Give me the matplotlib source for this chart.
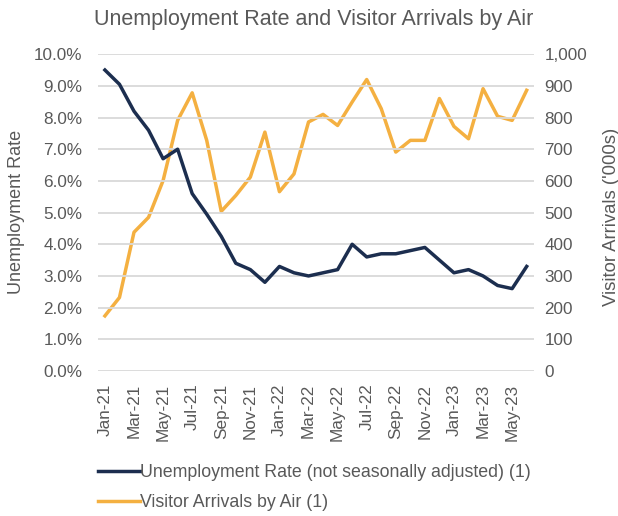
import matplotlib.pyplot as plt
from matplotlib.ticker import FuncFormatter, MultipleLocator

plt.rcParams['font.family'] = ['Liberation Sans', 'DejaVu Sans']

months = ['Jan-21', 'Feb-21', 'Mar-21', 'Apr-21', 'May-21', 'Jun-21', 'Jul-21', 'Aug-21',
          'Sep-21', 'Oct-21', 'Nov-21', 'Dec-21', 'Jan-22', 'Feb-22', 'Mar-22', 'Apr-22',
          'May-22', 'Jun-22', 'Jul-22', 'Aug-22', 'Sep-22', 'Oct-22', 'Nov-22', 'Dec-22',
          'Jan-23', 'Feb-23', 'Mar-23', 'Apr-23', 'May-23', 'Jun-23']

# unemployment rate, % (not seasonally adjusted)
unemployment = [9.5, 9.05, 8.2, 7.6, 6.7, 7.0, 5.6, 4.95, 4.25, 3.4, 3.2, 2.8,
                3.3, 3.1, 3.0, 3.1, 3.2, 4.0, 3.6, 3.7, 3.7, 3.8, 3.9, 3.5,
                3.1, 3.2, 3.0, 2.7, 2.6, 3.3]

# visitor arrivals by air, thousands
arrivals = [174, 232, 438, 485, 601, 791, 878, 728, 504, 554, 612, 754,
            566, 622, 786, 810, 775, 849, 920, 828, 691, 728, 728, 860,
            772, 733, 891, 804, 791, 886]

navy = '#1c2e4f'
gold = '#f4b041'
grey = '#595959'

W, H = 618, 516
fig = plt.figure(figsize=(W / 100, H / 100), dpi=100)
ax = fig.add_axes([0.158, 0.281, 0.706, 0.614])
ax2 = ax.twinx()

x = list(range(len(months)))
l1, = ax.plot(x, unemployment, color=navy, lw=2.5, zorder=3,
              label='Unemployment Rate (not seasonally adjusted) (1)')
l2, = ax2.plot(x, arrivals, color=gold, lw=2.5, zorder=2,
               label='Visitor Arrivals by Air (1)')

ax.set_ylim(0, 10)
ax2.set_ylim(0, 1000)
ax.set_xlim(-0.5, len(months) - 0.5)
ax.yaxis.set_major_locator(MultipleLocator(1))
ax2.yaxis.set_major_locator(MultipleLocator(100))
ax.yaxis.set_major_formatter(FuncFormatter(lambda v, p: f'{v:.1f}%'))
ax2.yaxis.set_major_formatter(FuncFormatter(lambda v, p: f'{v:,.0f}'))

ax.set_xticks(x[::2])
ax.set_xticklabels(months[::2], rotation=90)

ax.grid(axis='y', color='#d9d9d9', lw=1.3)
ax.set_axisbelow(True)
for a in (ax, ax2):
    for s in a.spines.values():
        s.set_visible(False)
    a.tick_params(length=0, labelsize=12.3, colors=grey)
ax.tick_params(axis='y', pad=11)
ax.tick_params(axis='x', pad=9)
ax2.tick_params(axis='y', pad=7.5)

# axis titles and chart title placed in figure pixels
fig.text(17 / W, 1 - 212 / H, 'Unemployment Rate', rotation=90, ha='center',
         va='center', fontsize=13, color=grey)
fig.text(611 / W, 1 - 217 / H, "Visitor Arrivals ('000s)", rotation=90, ha='center',
         va='center', fontsize=13.3, color=grey)
fig.text(314 / W, 1 - 20 / H, 'Unemployment Rate and Visitor Arrivals by Air',
         ha='center', va='center', fontsize=15.5, color=grey)

ax2.set_zorder(ax.get_zorder() - 1)
ax.patch.set_visible(False)

fig.legend(handles=[l1, l2], loc='upper left', bbox_to_anchor=(0.147, 0.114),
           frameon=False, fontsize=12.8, labelcolor=grey, handlelength=2.36,
           handletextpad=0.0, labelspacing=0.7, borderaxespad=0)

fig.savefig('out.png', dpi=100)
